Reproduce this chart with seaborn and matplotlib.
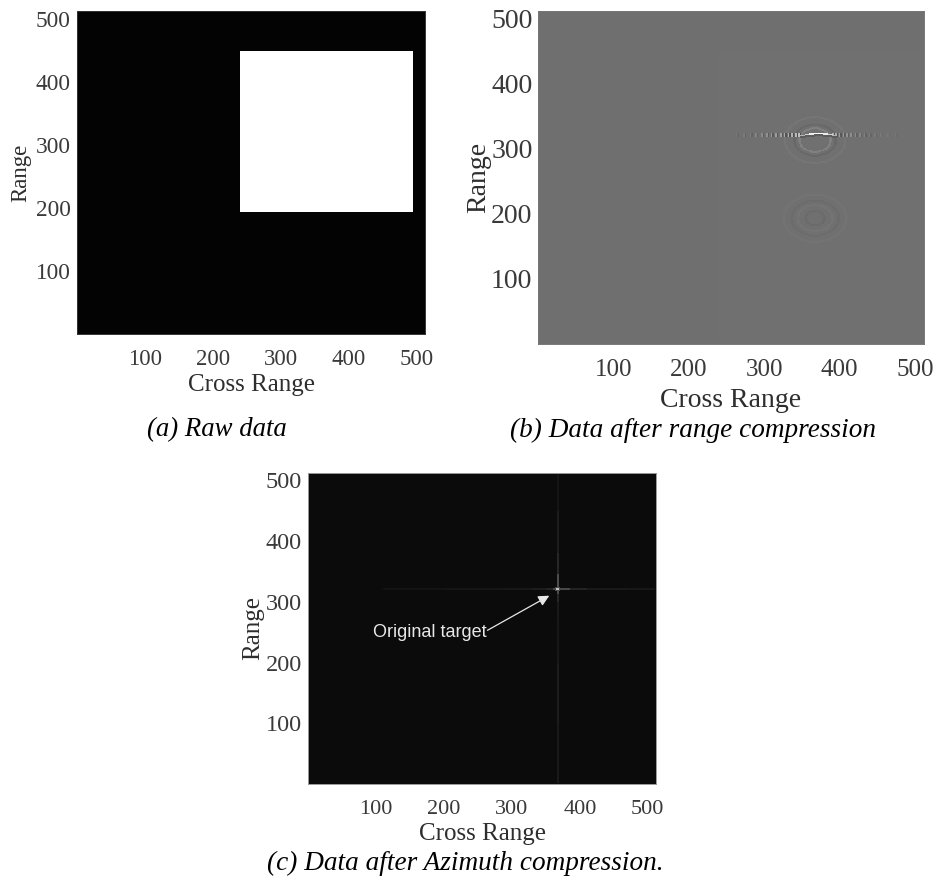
import matplotlib
matplotlib.use('Agg')
import matplotlib.pyplot as plt
import seaborn as sns
import numpy as np

sns.set_theme(style='white')
plt.rcParams['font.family'] = ['Liberation Serif', 'DejaVu Serif']

# Image size and axis ticks
grid_size = 512
tick_values = [100, 200, 300, 400, 500]
x_name = 'Cross Range'
y_name = 'Range'

# (a) raw data: white target block (rows / columns)
raw_rows = [193, 449]
raw_cols = [240, 495]

# (b) range compression: grey levels
comp_background = 0.435
comp_block = 0.44
streak_row = 321
streak_cols = [262, 272, 281, 288, 296, 303, 309, 315, 321, 326, 331, 336, 341, 345,
               390, 394, 399, 404, 409, 414, 420, 426, 432, 439, 446, 454, 463, 473]
streak_levels = [0.47, 0.48, 0.50, 0.52, 0.55, 0.57, 0.59, 0.61, 0.63, 0.66, 0.68, 0.70, 0.72, 0.75,
                 0.70, 0.66, 0.62, 0.60, 0.58, 0.56, 0.54, 0.52, 0.50, 0.49, 0.48, 0.47, 0.47, 0.46]
streak_dark = [0.41, 0.40, 0.39, 0.38, 0.37, 0.36, 0.35, 0.34, 0.33, 0.32, 0.31, 0.30, 0.30, 0.29,
               0.31, 0.33, 0.35, 0.36, 0.37, 0.38, 0.38, 0.39, 0.39, 0.40, 0.40, 0.41, 0.41, 0.42]
arc_cols = [348, 354, 360, 366, 372, 378, 384, 390]
arc_rows = [320, 321, 322, 323, 323, 322, 321, 320]
arc_levels = [0.70, 0.82, 0.92, 1.00, 1.00, 0.92, 0.82, 0.70]
ring_upper_center = [367, 313]
ring_upper_radii = [18, 24, 35]
ring_upper_levels = [0.50, 0.41, 0.46]
ring_lower_center = [367, 193]
ring_lower_radii = [11, 20, 27, 36]
ring_lower_levels = [0.42, 0.455, 0.425, 0.45]

# (c) azimuth compression
focus_background = 0.045
target_col = 367
target_row = 321
cross_h_cols = [110, 200, 280, 330, 350, 360, 374, 385, 410, 470, 511]
cross_h_levels = [0.075, 0.085, 0.09, 0.11, 0.14, 0.28, 0.28, 0.14, 0.10, 0.09, 0.08]
cross_v_rows = [1, 100, 200, 270, 300, 312, 330, 345, 380, 450, 511]
cross_v_levels = [0.10, 0.11, 0.09, 0.10, 0.15, 0.30, 0.30, 0.15, 0.11, 0.08, 0.07]
target_level = 0.75
target_halo = 0.3
annotation_text = 'Original target'
annotation_xy = [355, 310]
annotation_from = [264, 253]

captions = ['(a) Raw data', '(b) Data after range compression', '(c) Data after Azimuth compression.']

# Build the three images
raw_img = np.zeros((grid_size, grid_size)) + 0.015
raw_img[raw_rows[0]:raw_rows[1], raw_cols[0]:raw_cols[1]] = 1.0

comp_img = np.full((grid_size, grid_size), comp_background)
comp_img[1:449, 240:] = comp_block
rr, cc = np.mgrid[0:grid_size, 0:grid_size]
ring_sets = [(ring_upper_center, ring_upper_radii, ring_upper_levels),
             (ring_lower_center, ring_lower_radii, ring_lower_levels)]
for center, radii, levels in ring_sets:
    dist = np.hypot((cc - center[0]) / 1.15, rr - center[1])
    for radius, level in zip(radii, levels):
        comp_img[np.abs(dist - radius) < 1.5] = level
for col, bright, dark in zip(streak_cols, streak_levels, streak_dark):
    comp_img[streak_row - 2:streak_row + 3, col:col + 2] = bright
    comp_img[streak_row - 2:streak_row + 3, col + 2:col + 4] = dark
for col, row, level in zip(arc_cols, arc_rows, arc_levels):
    comp_img[row:row + 2, col:col + 7] = level
    comp_img[row - 3:row, col:col + 7] = 0.36

focus_img = np.full((grid_size, grid_size), focus_background)
for i in range(len(cross_h_cols) - 1):
    focus_img[target_row - 2:target_row + 1, cross_h_cols[i]:cross_h_cols[i + 1]] = cross_h_levels[i]
for i in range(len(cross_v_rows) - 1):
    focus_img[cross_v_rows[i]:cross_v_rows[i + 1], target_col - 1:target_col + 2] = cross_v_levels[i]
focus_img[target_row - 4:target_row + 4, target_col - 4:target_col + 4] = target_halo
focus_img[target_row - 2:target_row + 2, target_col - 2:target_col + 2] = target_level

fig = plt.figure(figsize=(9.38, 8.76), dpi=100)
W, H = 938.0, 876.0


def draw_panel(img, box, xsize, ysize, xlabel_size, ylabel_size, xtick_pad, ytick_pad, xpad, ypad, border):
    left, top, right, bottom = box
    ax = fig.add_axes([left / W, 1 - bottom / H, (right - left) / W, (bottom - top) / H])
    sns.heatmap(img, ax=ax, cmap='gray', vmin=0, vmax=1, cbar=False, square=False,
                xticklabels=False, yticklabels=False, rasterized=True)
    ax.set_xlim(0, grid_size)
    ax.set_ylim(0, grid_size)
    ax.set_xticks(tick_values)
    ax.set_yticks(tick_values)
    ax.set_xticklabels([str(t) for t in tick_values], fontsize=xsize, color='#3a3a3a')
    ax.set_yticklabels([str(t) for t in tick_values], fontsize=ysize, color='#3a3a3a')
    ax.tick_params(axis='x', direction='in', length=3, width=0.6, color='#555555',
                   pad=xtick_pad, bottom=True)
    ax.tick_params(axis='y', direction='in', length=3, width=0.6, color='#555555',
                   pad=ytick_pad, left=True)
    ax.set_xlabel(x_name, fontsize=xlabel_size, color='#2e2e2e', labelpad=xpad)
    ax.set_ylabel(y_name, fontsize=ylabel_size, color='#2e2e2e', labelpad=ypad)
    for spine in ax.spines.values():
        spine.set_visible(True)
        spine.set_color(border)
        spine.set_linewidth(0.7)
    return ax


ax_a = draw_panel(raw_img, (77, 11, 425, 334), 16.5, 16.8, 18, 16.5, 10.5, 4.5, 3, 3, '#333333')
ax_b = draw_panel(comp_img, (538, 11, 924, 344), 18, 20, 20, 20, 11, 4, 5, 0, '#777777')
ax_c = draw_panel(focus_img, (308, 473, 656, 784), 16, 17.5, 18, 18, 11.5, 4.5, 3, 1, '#999999')

ax_c.text(annotation_from[0] - 169, annotation_from[1] - 3, annotation_text, color='#e8e8e8',
          fontsize=13, family='Liberation Sans', va='center', ha='left')
ax_c.annotate('', xy=annotation_xy, xytext=annotation_from,
              arrowprops=dict(arrowstyle='-|>', color='#e8e8e8', lw=0.9, mutation_scale=16,
                              shrinkA=0, shrinkB=0))

fig.text(216.5 / W, 1 - 430 / H, captions[0], style='italic', fontsize=19.3, color='black',
         ha='center', va='center')
fig.text(693 / W, 1 - 430 / H, captions[1], style='italic', fontsize=19.6, color='black',
         ha='center', va='center')
fig.text(465 / W, 1 - 863 / H, captions[2], style='italic', fontsize=19.6, color='black',
         ha='center', va='center')

fig.savefig('out.png', dpi=100)
